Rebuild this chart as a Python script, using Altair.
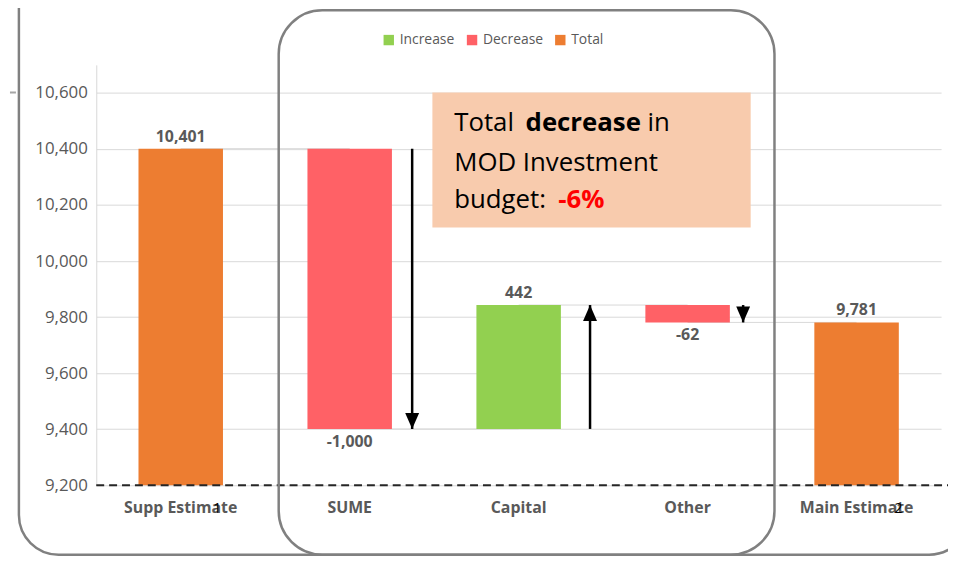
import altair as alt
import pandas as pd

# ---------------- data ----------------
categories = ["Supp Estimate", "SUME", "Capital", "Other", "Main Estimate"]
amounts = [10401, -1000, 442, -62, 9781]
kinds = ["Total", "Decrease", "Increase", "Decrease", "Total"]
y_ticks = [9200, 9400, 9600, 9800, 10000, 10200, 10400, 10600]
y_domain = [9200, 10700]
legend_order = ["Increase", "Decrease", "Total"]
legend_colors = ["#92D050", "#FF6166", "#ED7D31"]
note_line1 = ["Total", "decrease", "in"]
note_line2 = "MOD Investment"
note_line3 = ["budget:", "-6%"]
slide_marks = ["1", "2"]

# ---------------- waterfall table ----------------
rows = []
running = 0
for cat, amt, kind in zip(categories, amounts, kinds):
    if kind == "Total":
        start, end = y_domain[0], amt
        running = amt
    else:
        start, end = running, running + amt
        running = end
    rows.append(dict(cat=cat, start=start, end=end, kind=kind,
                     label=f"{amt:,}", top=max(start, end), bottom=min(start, end)))
df = pd.DataFrame(rows)

conn = pd.DataFrame([
    dict(cat=categories[i], nxt=categories[i + 1], level=rows[i]["end"])
    for i in range(len(categories) - 1)
])

one = pd.DataFrame({"k": [0]})

FONT = "Open Sans"
GRAY = "#595959"

x_scale = alt.Scale(domain=categories, paddingInner=0.5, paddingOuter=0.25)
x_axis = alt.Axis(labelAngle=0, labelAlign="center", labelBaseline="top", domain=False,
                  ticks=False, labelFontSize=16, labelFontWeight="bold", labelColor=GRAY,
                  labelFont=FONT, labelPadding=14, title=None)
y_scale = alt.Scale(domain=y_domain, nice=False, zero=False)
y_axis = alt.Axis(values=y_ticks, format=",.0f", ticks=False, domainColor="#D9D9D9",
                  gridColor="#D9D9D9", labelFontSize=17, labelColor=GRAY,
                  labelFont=FONT, labelPadding=9, title=None, labelAlign="right",
                  labelBaseline="middle", labelAngle=0)


def X(field):
    return alt.X(field, type="nominal", sort=categories, scale=x_scale, axis=x_axis, title=None)


def Y(field):
    return alt.Y(field, type="quantitative", scale=y_scale, axis=y_axis, title=None)


base = alt.Chart(df)

connectors = alt.Chart(conn).mark_rule(color="#D9D9D9", strokeWidth=1).encode(
    x=X("cat"), x2="nxt:N", y=Y("level"))

bars = base.mark_bar().encode(
    x=X("cat"), y=Y("start"), y2="end:Q",
    color=alt.Color("kind:N", scale=alt.Scale(domain=legend_order, range=legend_colors),
                    legend=alt.Legend(title=None, orient="none", legendX=288, legendY=-32,
                                      direction="horizontal", symbolType="square",
                                      symbolSize=110, symbolStrokeWidth=0,
                                      labelFontSize=14, labelColor=GRAY, labelFont=FONT,
                                      columnPadding=10)))

up_labels = base.transform_filter(alt.datum.kind != "Decrease").mark_text(
    baseline="bottom", dy=-4, fontSize=16, fontWeight="bold", color=GRAY, font=FONT
).encode(x=X("cat"), y=Y("top"), text="label:N")

down_labels = base.transform_filter(alt.datum.kind == "Decrease").mark_text(
    baseline="top", dy=5, fontSize=16, fontWeight="bold", color=GRAY, font=FONT
).encode(x=X("cat"), y=Y("bottom"), text="label:N")

DOWN = "M-1,-2.3L1,-2.3L0,0Z"
UP = "M-1,2.3L1,2.3L0,0Z"
arrow_layers = []
for cat, off in [("SUME", 63), ("Capital", 72), ("Other", 56)]:
    sub = base.transform_filter(alt.datum.cat == cat)
    kind = kinds[categories.index(cat)]
    arrow_layers.append(sub.mark_rule(color="black", strokeWidth=2.5, xOffset=off).encode(
        x=X("cat"), y=Y("start"), y2="end:Q"))
    arrow_layers.append(sub.mark_point(shape=DOWN if kind == "Decrease" else UP, filled=True,
                                       color="black", opacity=1, size=196, xOffset=off).encode(
        x=X("cat"), y=Y("end")))

floor_line = alt.Chart(one).mark_rule(color="#262626", strokeDash=[8, 5], strokeWidth=2).encode(
    y=alt.datum(y_domain[0]), x=alt.value(0), x2=alt.value(870))

note_box = alt.Chart(one).mark_rect(color="#F8CBAD").encode(
    x=alt.value(339), x2=alt.value(660), y=alt.value(28), y2=alt.value(164))


def txt(s, x, y, bold=False, color="black", size=26):
    return alt.Chart(one).mark_text(align="left", baseline="alphabetic", fontSize=size,
                                    font=FONT, fontWeight="bold" if bold else "normal",
                                    color=color).encode(
        text=alt.value(s), x=alt.value(x), y=alt.value(y))


note_texts = [
    txt(note_line1[0], 361, 67),
    txt(note_line1[1], 433, 67, bold=True),
    txt(note_line1[2], 556, 67),
    txt(note_line2, 361, 107),
    txt(note_line3[0], 361, 144),
    txt(note_line3[1], 466, 144, bold=True, color="#FF0000"),
]

marks_txt = [
    txt(slide_marks[0], 118, 452, size=14),
    txt(slide_marks[1], 805, 452, size=14),
]

frame_outer = alt.Chart(one).mark_rect(fillOpacity=0, stroke="#808080", strokeWidth=2.5,
                                       cornerRadius=40).encode(
    x=alt.value(-78), x2=alt.value(880), y=alt.value(-120), y2=alt.value(494))
frame_mid = alt.Chart(one).mark_rect(fillOpacity=0, stroke="#808080", strokeWidth=2.5,
                                     cornerRadius=44).encode(
    x=alt.value(184), x2=alt.value(684), y=alt.value(-55), y2=alt.value(494))
stub = alt.Chart(one).mark_rule(color="#A6A6A6", strokeDash=[6, 4], strokeWidth=2).encode(
    x=alt.value(-97), x2=alt.value(-79), y=alt.value(28))

chart = alt.layer(
    connectors, bars, up_labels, down_labels, *arrow_layers, floor_line,
    note_box, *note_texts, *marks_txt, frame_outer, frame_mid, stub
).properties(
    width=852, height=424, autosize="none",
    padding={"left": 89, "top": 55, "right": 7, "bottom": 70},
    background="white",
).configure_view(stroke=None)

chart.save("out.html", embed_options={"renderer": "svg", "actions": False})
